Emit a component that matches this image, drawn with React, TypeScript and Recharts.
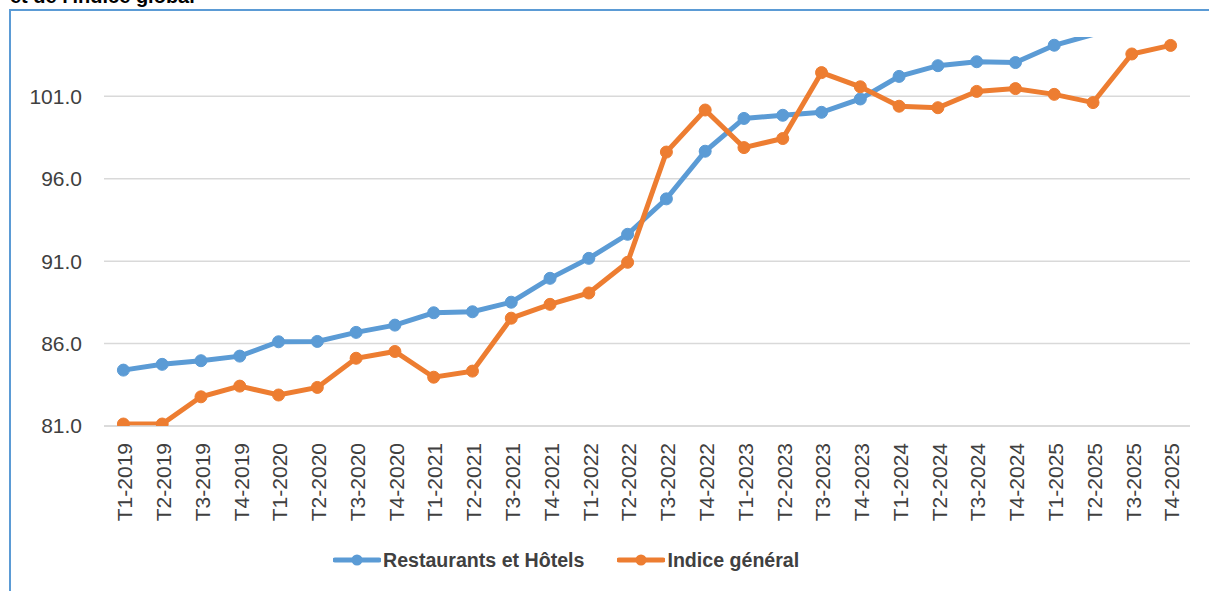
import React from "react";
import { LineChart, Line, XAxis, YAxis, CartesianGrid } from "recharts";

const categories = [
  "T1-2019", "T2-2019", "T3-2019", "T4-2019",
  "T1-2020", "T2-2020", "T3-2020", "T4-2020",
  "T1-2021", "T2-2021", "T3-2021", "T4-2021",
  "T1-2022", "T2-2022", "T3-2022", "T4-2022",
  "T1-2023", "T2-2023", "T3-2023", "T4-2023",
  "T1-2024", "T2-2024", "T3-2024", "T4-2024",
  "T1-2025", "T2-2025", "T3-2025", "T4-2025",
];

const restaurantsHotels: (number | null)[] = [
  84.39, 84.74, 84.96, 85.24,
  86.11, 86.13, 86.68, 87.12,
  87.87, 87.93, 88.51, 89.96,
  91.17, 92.63, 94.78, 97.67,
  99.66, 99.85, 100.03, 100.84,
  102.21, 102.86, 103.10, 103.05,
  104.1, 104.75, null, null,
];

const indiceGeneral: (number | null)[] = [
  81.12, 81.12, 82.77, 83.42,
  82.88, 83.34, 85.11, 85.52,
  83.96, 84.33, 87.54, 88.38,
  89.07, 90.93, 97.62, 100.17,
  97.89, 98.44, 102.44, 101.58,
  100.40, 100.31, 101.30, 101.47,
  101.12, 100.62, 103.57, 104.09,
];

const yTicks = [81, 86, 91, 96, 101];
const yMin = 81;
const yMax = 104.6;

const seriesNames = ["Restaurants et Hôtels", "Indice général"];
const seriesColors = ["#5B9BD5", "#ED7D31"];

const data = categories.map((c, i) => ({
  cat: c,
  rh: restaurantsHotels[i],
  ig: indiceGeneral[i],
}));

const FONT = "'Liberation Sans', Arial, sans-serif";
const TEXT = "#404040";

const makeDot = (color: string) => (props: any) => {
  const { cx, cy, value, index } = props;
  if (value == null || value > yMax || value < yMin || cx == null || cy == null) {
    return <g key={`d-${index}`} />;
  }
  return <circle key={`d-${index}`} cx={cx} cy={cy} r={6} fill={color} stroke={color} strokeWidth={1} />;
};

const XTick = (props: any) => {
  const { x, y, payload } = props;
  const ty = y + 17;
  return (
    <text
      x={x}
      y={ty}
      transform={`rotate(-90, ${x}, ${ty})`}
      textAnchor="end"
      dy="0.42em"
      fill={TEXT}
      fontSize={21}
      fontFamily={FONT}
    >
      {payload.value}
    </text>
  );
};

export default function App() {
  return (
    <div style={{ position: "absolute", left: 0, top: 0, width: 1209, height: 591, overflow: "hidden", background: "#fff" }}>
      <div
        style={{
          position: "absolute",
          left: 10,
          top: -15,
          fontFamily: FONT,
          fontWeight: "bold",
          fontSize: 20,
          lineHeight: "23px",
          color: "#000",
          whiteSpace: "nowrap",
        }}
      >
        et de l'indice global
      </div>
      <div
        style={{
          position: "absolute",
          left: 9,
          top: 9,
          width: 1300,
          height: 700,
          borderLeft: "2px solid #5B9BD5",
          borderTop: "2px solid #5B9BD5",
          boxSizing: "border-box",
        }}
      />
      <div style={{ position: "absolute", left: 0, top: 0 }}>
        <LineChart
          width={1209}
          height={591}
          data={data}
          margin={{ top: 37, right: 19, bottom: 0, left: 0 }}
        >
          <CartesianGrid
            vertical={false}
            stroke="#D9D9D9"
            strokeWidth={1.5}
            horizontalValues={yTicks}
          />
          <XAxis
            dataKey="cat"
            height={165}
            interval={0}
            padding={{ left: 19.4, right: 19.4 }}
            tickLine={false}
            axisLine={{ stroke: "#D9D9D9", strokeWidth: 1.5 }}
            tickSize={0}
            tickMargin={0}
            tick={<XTick />}
          />
          <YAxis
            width={104}
            domain={[yMin, yMax]}
            ticks={yTicks}
            allowDataOverflow
            axisLine={false}
            tickLine={false}
            tickSize={0}
            tickMargin={22}
            tickFormatter={(v: number) => v.toFixed(1)}
            tick={{ fill: TEXT, fontSize: 21, fontFamily: FONT }}
          />
          <Line
            dataKey="rh"
            name={seriesNames[0]}
            stroke={seriesColors[0]}
            strokeWidth={5}
            dot={makeDot(seriesColors[0])}
            activeDot={false}
            isAnimationActive={false}
          />
          <Line
            dataKey="ig"
            name={seriesNames[1]}
            stroke={seriesColors[1]}
            strokeWidth={5}
            dot={makeDot(seriesColors[1])}
            activeDot={false}
            isAnimationActive={false}
          />
        </LineChart>
      </div>
      <div
        style={{
          position: "absolute",
          left: 333,
          top: 547,
          display: "flex",
          alignItems: "center",
          fontFamily: FONT,
          fontWeight: "bold",
          fontSize: 19.6,
          color: TEXT,
          whiteSpace: "nowrap",
        }}
      >
        {seriesNames.map((n, i) => (
          <div key={n} style={{ display: "flex", alignItems: "center", marginRight: i === 0 ? 33 : 0 }}>
            <svg width={48} height={26} style={{ marginRight: 2 }}>
              <line x1={2} y1={13} x2={46} y2={13} stroke={seriesColors[i]} strokeWidth={5} strokeLinecap="round" />
              <circle cx={24} cy={13} r={5.5} fill={seriesColors[i]} />
            </svg>
            <span>{n}</span>
          </div>
        ))}
      </div>
    </div>
  );
}
